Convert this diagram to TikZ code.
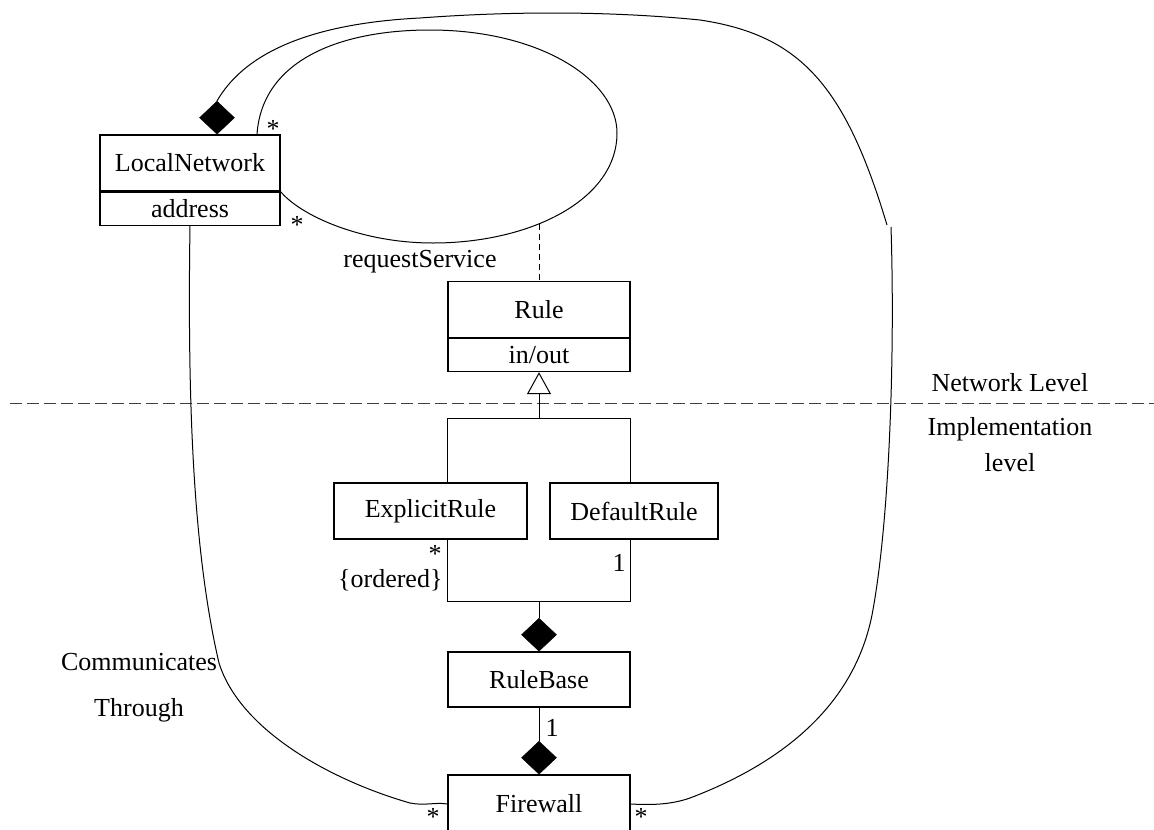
\documentclass[tikz,border=0pt]{standalone}
\usepackage{fontspec}
\setmainfont{Liberation Serif}
\usetikzlibrary{shapes.geometric,arrows.meta,positioning}

\tikzset{
  cls/.style={draw,line width=1.1pt,inner sep=0pt,minimum width=182pt,minimum height=56pt},
  attr/.style={draw,line width=1.1pt,inner sep=0pt,minimum width=182pt,minimum height=33pt},
  comp/.style={diamond,draw,fill=black,line width=0.5pt,inner sep=0pt,
    minimum width=35pt,minimum height=33pt,anchor=south},
  mult/.style={inner sep=0pt},
  twoline/.style={align=center,inner sep=0pt}
}

\begin{document}
\begin{tikzpicture}[x=1pt,y=-1pt,line width=1pt,font=\fontsize{26}{31}\selectfont]
\useasboundingbox (0,0) rectangle (1154,830);
% classes
\node[cls,minimum width=180pt] (ln) at (190,163) {LocalNetwork};
\node[attr,minimum width=180pt,below=0pt of ln] (lnattr) {address};
\node[cls] (rule) at (539,309.5) {Rule};
\node[attr,below=0pt of rule] (ruleattr) {in/out};
\node[cls,minimum width=193pt] (er) at (430.5,511) {ExplicitRule};
\node[cls,minimum width=168pt] (dr) at (634,511) {DefaultRule};
\node[cls,minimum height=55pt] (rb) at (539,679.5) {RuleBase};
\node[cls,minimum height=58pt] (fw) at (539,804) {Firewall};
% composition diamonds
\node[comp] (d1) at ([xshift=27pt]ln.north) {};
\node[comp] (d2) at (rb.north) {};
\node[comp] (d3) at (fw.north) {};
\coordinate (fk) at (539,418);
\coordinate (jn) at (539,601);
\coordinate (rs) at (539,224);
\coordinate (sepL) at (10,403);
\coordinate (sepR) at (1154,403);
% levels
\draw[dash pattern=on 12pt off 5pt,black!75] (sepL) -- (sepR);
\node (netlvl) at (1010,383) {Network Level};
\node[twoline,font=\fontsize{26}{36}\selectfont] (implvl) at (1010,445) {Implementation\\level};
% generalisation
\draw[-{Triangle[open,length=22pt,width=24pt]}] (fk) -- (ruleattr.south);
\draw (er.north -| rule.west) -- (rule.west |- fk) -- (rule.east |- fk) -- (dr.north -| rule.east);
% aggregation of the rules
\draw (er.south -| rule.west) -- (rule.west |- jn) -- (rule.east |- jn) -- (dr.south -| rule.east);
\draw (jn) -- (d2.north);
\draw (rb.south) -- (d3.north);
\node[mult] (m3) at (435,554) {*};
\node[mult,anchor=east] (ord) at (443,580) {\{ordered\}};
\node[mult] (m4) at (619,563) {1};
\node[mult] (m5) at (552,728) {1};
% requestService
\draw ([xshift=67pt]ln.north) .. controls (262,60) and (340,30) .. (430,30)
  .. controls (540,30) and (617,80) .. (617,133)
  .. controls (617,200) and (530,243) .. (433,243)
  .. controls (360,243) and (300,215) .. (ln.south east);
\draw[dash pattern=on 6pt off 4pt] (rs) -- (rule.north);
\node (req) at (420,262) {requestService};
\node[mult] (m1) at (273,129) {*};
\node[mult] (m2) at (297,225) {*};
% LocalNetwork - Firewall
\draw (d1.north) .. controls (235,70) and (280,25) .. (420,18)
  .. controls (500,12) and (600,10) .. (700,20)
  .. controls (800,35) and (845,85) .. (887,225)
  (891,227) .. controls (895,350) and (890,520) .. (872,615)
  .. controls (855,700) and (790,760) .. (690,798)
  .. controls (670,805) and (650,805) .. (fw.east);
\draw (lnattr.south) .. controls (187,420) and (195,560) .. (219,663)
  .. controls (240,730) and (330,780) .. (410,803)
  .. controls (425,806) and (435,802) .. (fw.west);
\node[twoline,font=\fontsize{26}{46}\selectfont] (comm) at (139,688) {Communicates\\Through};
\node[mult] (m6) at (433,817) {*};
\node[mult] (m7) at (641,817) {*};
\end{tikzpicture}
\end{document}
